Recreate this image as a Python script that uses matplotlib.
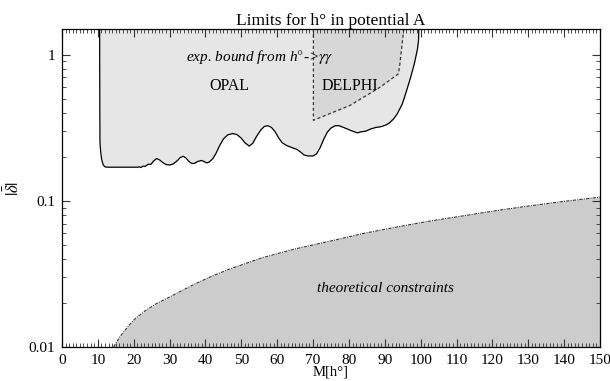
import numpy as np
import matplotlib
matplotlib.use("Agg")
import matplotlib.pyplot as plt
from matplotlib.ticker import MultipleLocator, LogLocator, FixedLocator, NullFormatter

plt.rcParams.update({
    "font.family": ["Liberation Serif", "DejaVu Serif"],
    "mathtext.fontset": "stix",
    "font.size": 11,
})

# OPAL excluded region: lower boundary of the solid curve
opal_x = [10.5, 10.55, 10.6, 10.8, 11.1, 11.5, 12.0, 12.6, 21.0, 21.6, 22.0, 22.6,
          23.2, 24.0, 24.8, 25.6, 26.4, 27.3, 28.2, 29.1, 30.1, 31.0, 32.0, 33.0,
          33.8, 34.6, 35.4, 36.2, 37.0, 37.8, 38.9, 39.6, 40.3, 41.0, 42.1, 43.0,
          44.0, 45.0, 46.2, 47.6, 48.8, 49.9, 51.0, 52.2, 53.2, 54.2, 55.4, 56.4,
          57.4, 58.4, 59.4, 60.4, 61.4, 62.5, 64.0, 65.5, 66.5, 67.5, 68.6, 70.0,
          71.0, 72.0, 73.0, 74.0, 75.0, 76.2, 77.2, 78.5, 79.6, 81.0, 82.4, 83.4,
          84.7, 86.0, 87.5, 89.0, 90.5, 91.5, 92.5, 93.5, 94.9, 96.0, 97.2, 98.2,
          99.1, 99.4, 99.5]
opal_y = [1.5, 0.40, 0.25, 0.215, 0.19, 0.176, 0.171, 0.170, 0.170, 0.171, 0.169, 0.173,
          0.172, 0.178, 0.178, 0.188, 0.195, 0.190, 0.182, 0.177, 0.176, 0.179, 0.187, 0.198,
          0.202, 0.196, 0.186, 0.180, 0.181, 0.186, 0.189, 0.186, 0.182, 0.184, 0.195, 0.213,
          0.240, 0.265, 0.283, 0.289, 0.284, 0.270, 0.250, 0.237, 0.248, 0.275, 0.305, 0.323,
          0.327, 0.318, 0.298, 0.270, 0.250, 0.240, 0.232, 0.225, 0.216, 0.206, 0.203, 0.203,
          0.210, 0.232, 0.265, 0.296, 0.315, 0.327, 0.327, 0.318, 0.310, 0.300, 0.292, 0.297,
          0.300, 0.310, 0.318, 0.322, 0.332, 0.345, 0.365, 0.395, 0.462, 0.56, 0.70, 0.86,
          1.09, 1.25, 1.5]

# DELPHI excluded region: dashed boundary
delphi_x = [70.1, 70.1, 80.3, 88.7, 93.8, 94.2, 95.3]
delphi_y = [1.5, 0.356, 0.45, 0.60, 0.74, 0.865, 1.5]

# theoretical constraints: upper edge
theory_x = [14.4, 15.0, 16.0, 17.0, 18.6, 20.5, 23.2, 26.0, 29.7, 33.0, 37.2, 41.5,
            46.5, 55.8, 65.0, 75.3, 84.0, 93.3, 102.5, 111.9, 121.0, 130.5, 140.0, 150.0]
theory_y = [0.0100, 0.0106, 0.0116, 0.0125, 0.0140, 0.0157, 0.0177, 0.0196, 0.0218,
            0.0240, 0.0271, 0.0303, 0.0340, 0.0408, 0.0469, 0.0534, 0.0598, 0.0662,
            0.0727, 0.0790, 0.0857, 0.0925, 0.0992, 0.1060]

ymin, ymax = 0.01, 1.5

fig = plt.figure(figsize=(6.10, 3.81), dpi=100)
ax = fig.add_axes([0.1016, 0.0892, 0.8820, 0.8347])

ax.fill_between(opal_x, opal_y, ymax, color="#e6e6e6", lw=0)
ax.plot(opal_x, opal_y, color="black", lw=0.9)

ax.fill_between(delphi_x, delphi_y, ymax, color="#d7d7d7", lw=0)
ax.plot(delphi_x, delphi_y, color="#333333", lw=0.9, ls=(0, (2.5, 2)))

ax.fill_between(theory_x, ymin, theory_y, color="#cccccc", lw=0)
ax.plot(theory_x, theory_y, color="#333333", lw=0.8, ls=(0, (3, 1, 1, 1)))

ax.text(55.2, 0.97, r"exp. bound from h$\degree$->$\gamma\gamma$", style="italic",
        ha="center", va="center", fontsize=11)
ax.text(46.8, 0.615, "OPAL", ha="center", va="center", fontsize=11.5)
ax.text(80.3, 0.615, "DELPHI", ha="center", va="center", fontsize=11.5)
ax.text(90.3, 0.0252, "theoretical constraints", style="italic",
        ha="center", va="center", fontsize=11)

ax.set_xlim(0, 150)
ax.set_ylim(ymin, ymax)
ax.set_yscale("log")
ax.xaxis.set_major_locator(MultipleLocator(10))
ax.xaxis.set_minor_locator(MultipleLocator(1))
ax.yaxis.set_major_locator(FixedLocator([0.01, 0.1, 1]))
ax.yaxis.set_minor_locator(LogLocator(base=10, subs=np.arange(2, 10)))
ax.yaxis.set_minor_formatter(NullFormatter())
ax.set_yticklabels(["0.01", "0.1", "1"])

ax.tick_params(which="both", direction="in", top=True, right=True, color="#333333")
ax.tick_params(which="major", length=6, width=0.8, pad=5)
ax.tick_params(which="minor", length=3, width=0.6)
for s in ax.spines.values():
    s.set_linewidth(0.9)

ax.set_title("Limits for h\u00b0 in potential A", fontsize=12.5, pad=2)
ax.set_xlabel("M[h\u00b0]", labelpad=-1, fontsize=10.5)
ax.set_ylabel(r"$|\bar{\delta}|$", labelpad=4, fontsize=12)

fig.savefig("out.png", dpi=100)
